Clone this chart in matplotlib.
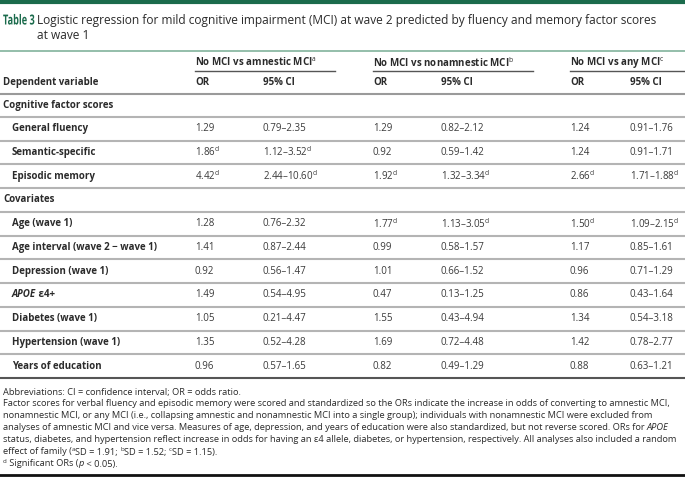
import matplotlib.pyplot as plt
from matplotlib.textpath import TextPath
from matplotlib.patches import PathPatch
from matplotlib.font_manager import FontProperties
from matplotlib.transforms import Affine2D

plt.rcParams['font.family'] = ['Open Sans', 'DejaVu Sans']
plt.rcParams['mathtext.fontset'] = 'custom'
plt.rcParams['mathtext.rm'] = 'Open Sans'
plt.rcParams['mathtext.it'] = 'Open Sans:italic'
plt.rcParams['mathtext.bf'] = 'Open Sans:bold'

# table content
groups = ["No MCI vs amnestic MCI", "No MCI vs nonamnestic MCI", "No MCI vs any MCI"]
group_notes = ["a", "b", "c"]
sections = ["Cognitive factor scores", "Covariates"]
cog_labels = ["General fluency", "Semantic-specific", "Episodic memory"]
cov_labels = ["Age (wave 1)", "Age interval (wave 2 \u2212 wave 1)", "Depression (wave 1)",
              "APOE", "Diabetes (wave 1)", "Hypertension (wave 1)", "Years of education"]

or_amn = [1.29, 1.86, 4.42, 1.28, 1.41, 0.92, 1.49, 1.05, 1.35, 0.96]
lo_amn = [0.79, 1.12, 2.44, 0.76, 0.87, 0.56, 0.54, 0.21, 0.52, 0.57]
hi_amn = [2.35, 3.52, 10.60, 2.32, 2.44, 1.47, 4.95, 4.47, 4.28, 1.65]
sig_amn = [0, 1, 1, 0, 0, 0, 0, 0, 0, 0]

or_non = [1.29, 0.92, 1.92, 1.77, 0.99, 1.01, 0.47, 1.55, 1.69, 0.82]
lo_non = [0.82, 0.59, 1.32, 1.13, 0.58, 0.66, 0.13, 0.43, 0.72, 0.49]
hi_non = [2.12, 1.42, 3.34, 3.05, 1.57, 1.52, 1.25, 4.94, 4.48, 1.29]
sig_non = [0, 0, 1, 1, 0, 0, 0, 0, 0, 0]

or_any = [1.24, 1.24, 2.66, 1.50, 1.17, 0.96, 0.86, 1.34, 1.42, 0.88]
lo_any = [0.91, 0.91, 1.71, 1.09, 0.85, 0.71, 0.43, 0.54, 0.78, 0.63]
hi_any = [1.76, 1.71, 1.88, 2.15, 1.61, 1.29, 1.64, 3.18, 2.77, 1.21]
sig_any = [0, 0, 1, 1, 0, 0, 0, 0, 0, 0]

# footnote lines as segments: (text, style) with style "n" normal, "i" italic, "s" superscript
notes = [
    [("Abbreviations: CI = confidence interval; OR = odds ratio.", "n")],
    [("Factor scores for verbal fluency and episodic memory were scored and standardized so the ORs indicate the increase in odds of converting to amnestic MCI,", "n")],
    [("nonamnestic MCI, or any MCI (i.e., collapsing amnestic and nonamnestic MCI into a single group); individuals with nonamnestic MCI were excluded from", "n")],
    [("analyses of amnestic MCI and vice versa. Measures of age, depression, and years of education were also standardized, but not reverse scored. ORs for ", "n"),
     ("APOE", "i")],
    [("status, diabetes, and hypertension reflect increase in odds for having an \u03b54 allele, diabetes, or hypertension, respectively. All analyses also included a random", "n")],
    [("effect of family (", "n"), ("a", "s"), ("SD = 1.91; ", "n"), ("b", "s"), ("SD = 1.52; ", "n"),
     ("c", "s"), ("SD = 1.15).", "n")],
    [("d", "s"), (" Significant ORs (", "n"), ("p", "i"), (" < 0.05).", "n")],
]

green = "#1b6b4c"
txt = "#2b2b2b"
grey = "#b4b4b4"

fig = plt.figure(figsize=(6.85, 4.79), dpi=100)
ax = fig.add_axes([0, 0, 1, 1])
ax.set_xlim(0, 685)
ax.set_ylim(479, 0)
ax.axis("off")

# title block
ax.axhline(1.5, color=green, lw=3)
# "Table 3" drawn as a horizontally squeezed path (condensed bold look)
px = 100 / 72
tp = TextPath((0, 0), "Table 3", size=10, prop=FontProperties(family="Open Sans", weight="bold"))
tr = Affine2D().scale(0.66 * px, -px).translate(3, 24.5) + ax.transData
ax.add_patch(PathPatch(tp, transform=tr, color=green, lw=0))
ax.text(37, 20, "Logistic regression for mild cognitive impairment (MCI) at wave 2 predicted by fluency and memory factor scores",
        color=txt, fontsize=8.6, va="center")
ax.text(37, 35, "at wave 1", color=txt, fontsize=8.6, va="center")
ax.axhline(50.5, color="#82b39c", lw=1.2)

fs = 7.0
group_x = [195, 373, 570]
group_w = [140, 160, 115]
ci_off = [68, 68, 60]

for gx, gw, g, n, co in zip(group_x, group_w, groups, group_notes, ci_off):
    ax.text(gx, 63, g + "$^{\\mathrm{%s}}$" % n, fontsize=fs, fontweight="bold", color=txt, va="center")
    ax.plot([gx, gx + gw], [71, 71], color="#555555", lw=1)
    ax.text(gx, 82, "OR", fontsize=fs, fontweight="bold", color=txt, va="center")
    ax.text(gx + co, 82, "95% CI", fontsize=fs, fontweight="bold", color=txt, va="center")
ax.text(3, 82, "Dependent variable", fontsize=fs, fontweight="bold", color=txt, va="center")
ax.axhline(94, color="#9a9a9a", lw=1.5)

step = 23.73
y0 = 105
labels = [sections[0]] + cog_labels + [sections[1]] + cov_labels
cols = [(or_amn, lo_amn, hi_amn, sig_amn), (or_non, lo_non, hi_non, sig_non), (or_any, lo_any, hi_any, sig_any)]

k = 0
for i, lab in enumerate(labels):
    y = y0 + i * step
    if lab in sections:
        ax.text(3, y, lab, fontsize=fs, fontweight="bold", color=txt, va="center")
    else:
        if lab == "APOE":
            t = ax.text(12, y, "APOE", fontsize=fs, fontweight="bold", style="italic", color=txt, va="center")
            ax.annotate(" \u03b54+", xy=(1, 0.5), xycoords=t, fontsize=fs, fontweight="bold",
                        color=txt, va="center", ha="left")
        else:
            ax.text(12, y, lab, fontsize=fs, fontweight="bold", color=txt, va="center")
        for (ors, los, his, sig), gx, co in zip(cols, group_x, ci_off):
            sup = "$^{\\mathrm{d}}$" if sig[k] else ""
            ax.text(gx, y, "%.2f" % ors[k] + sup, fontsize=fs, color="#3a3a3a", va="center")
            ax.text(gx + co, y, "%.2f\u2013%.2f" % (los[k], his[k]) + sup, fontsize=fs, color="#3a3a3a", va="center")
        k += 1
    last = i == len(labels) - 1
    ax.axhline(y + 12, color="#555555" if last else grey, lw=1.5)

# footnotes, each line chained segment by segment
nfs = 6.7
for j, segs in enumerate(notes):
    y = 392 + j * 12
    prev = None
    for s, kind in segs:
        size = nfs * 0.65 if kind == "s" else nfs
        style = "italic" if kind == "i" else "normal"
        yy = y - 2.5 if kind == "s" else y
        if prev is None:
            prev = ax.text(3, yy, s, fontsize=size, style=style, color=txt, va="center")
        else:
            prev = ax.annotate(s, xy=(1, yy), xycoords=(prev, "data"), fontsize=size, style=style,
                               color=txt, va="center", ha="left")

ax.axhline(475, color="#111111", lw=2)

fig.savefig("out.png", dpi=100)
